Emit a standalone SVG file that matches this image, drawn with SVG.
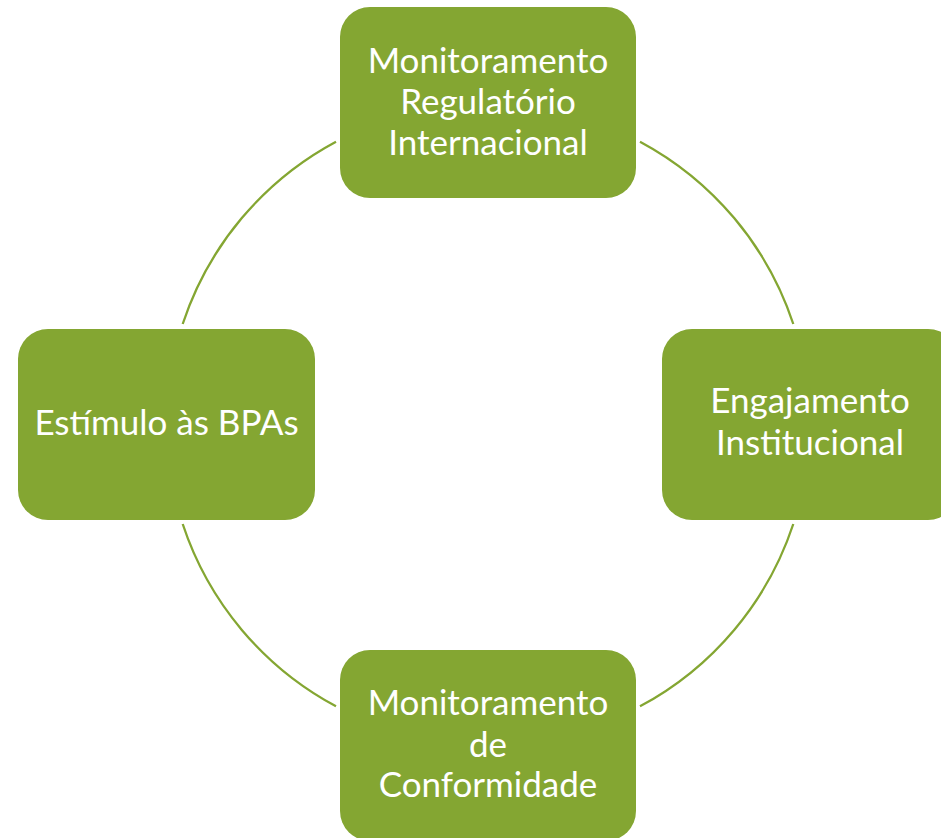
<svg xmlns="http://www.w3.org/2000/svg" width="941" height="838" viewBox="0 0 941 838">
<style>
.box{fill:#84A632;}
.lbl{fill:#FFFFFF;font-family:Lato,"Liberation Sans",sans-serif;font-size:35px;text-anchor:middle;}
.arc{fill:none;stroke:#84A632;stroke-width:2.3;}
</style>
<rect width="941" height="838" fill="#FFFFFF"/>
<g id="connectors">
<path class="arc" d="M336,141.7 A321,321 0 0 0 182.7,324"/>
<path class="arc" d="M640,141.7 A321,321 0 0 1 793.3,324"/>
<path class="arc" d="M793.3,524 A321,321 0 0 1 640,706.3"/>
<path class="arc" d="M182.7,524 A321,321 0 0 0 336,706.3"/>
</g>
<g id="node-top">
<rect class="box" x="340" y="7" width="296" height="191" rx="30" ry="30"/>
<text class="lbl" x="488" y="73">Monitoramento</text>
<text class="lbl" x="488" y="114">Regulatório</text>
<text class="lbl" x="488" y="155">Internacional</text>
</g>
<g id="node-right">
<rect class="box" x="662" y="329" width="296" height="191" rx="30" ry="30"/>
<text class="lbl" x="810" y="413">Engajamento</text>
<text class="lbl" x="810" y="455">Institucional</text>
</g>
<g id="node-bottom">
<rect class="box" x="340" y="650" width="296" height="191" rx="30" ry="30"/>
<text class="lbl" x="488" y="715">Monitoramento</text>
<text class="lbl" x="488" y="757">de</text>
<text class="lbl" x="488" y="797">Conformidade</text>
</g>
<g id="node-left">
<rect class="box" x="18" y="329" width="297" height="191" rx="30" ry="30"/>
<text class="lbl" x="166.5" y="435">Estímulo às BPAs</text>
</g>
</svg>
